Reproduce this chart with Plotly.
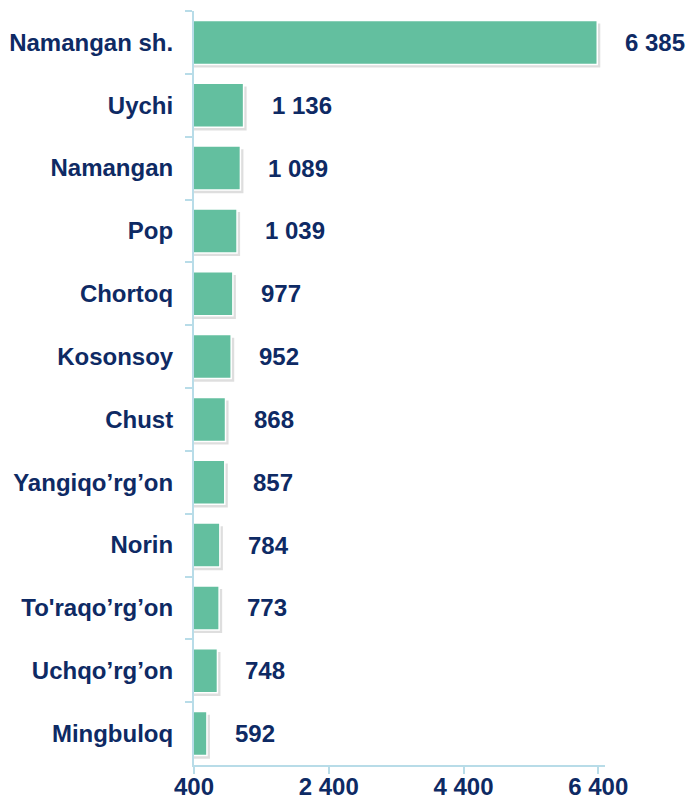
import plotly.graph_objects as go

categories = ["Namangan sh.", "Uychi", "Namangan", "Pop", "Chortoq", "Kosonsoy",
              "Chust", "Yangiqo’rg’on", "Norin", "To'raqo’rg’on", "Uchqo’rg’on", "Mingbuloq"]
values = [6385, 1136, 1089, 1039, 977, 952, 868, 857, 784, 773, 748, 592]
tick_vals = [400, 2400, 4400, 6400]
tick_text = ["400", "2 400", "4 400", "6 400"]

NAVY = "#0e2a64"
BAR = "#63bf9f"
AXIS = "#b8dce8"
FONT = dict(family="Liberation Sans, Arial, sans-serif", size=24, color=NAVY, weight="bold")

fig = go.Figure()
# soft shadow
fig.add_trace(go.Bar(
    y=categories, x=[v + 45 for v in values], orientation="h",
    width=0.7, offset=-0.30,
    marker=dict(color="rgba(0,0,0,0.13)", line=dict(width=0)),
    hoverinfo="skip", showlegend=False,
))
fig.add_trace(go.Bar(
    y=categories, x=values, orientation="h",
    width=0.7, offset=-0.35,
    marker=dict(color=BAR, line=dict(color="white", width=1.5)),
    showlegend=False,
))

for c, v in zip(categories, values):
    fig.add_annotation(x=v, y=c, text=f"{v:,}".replace(",", " "), showarrow=False,
                       xanchor="left", yanchor="middle", xshift=26, font=FONT)

fig.update_layout(
    width=689, height=805,
    margin=dict(l=194, r=84, t=11, b=40),
    plot_bgcolor="white", paper_bgcolor="white",
    barmode="overlay",
    font=FONT,
)
fig.update_xaxes(range=[400, 6500], tickvals=tick_vals, ticktext=tick_text,
                 showline=True, linecolor=AXIS, linewidth=2, ticks="outside",
                 tickcolor=AXIS, ticklen=7, tickwidth=2, showgrid=False, zeroline=False,
                 ticklabelstandoff=-8, tickfont=FONT, automargin=False)
fig.update_yaxes(range=[11.5, -0.5], showline=True, linecolor=AXIS, linewidth=2,
                 ticks="outside", tickson="boundaries", tickcolor=AXIS, ticklen=7,
                 tickwidth=2, showgrid=False, ticklabelstandoff=14, tickfont=FONT,
                 automargin=False)

fig.write_html("out.html", config={"displayModeBar": False},
               post_script="document.body.style.margin='0';")
